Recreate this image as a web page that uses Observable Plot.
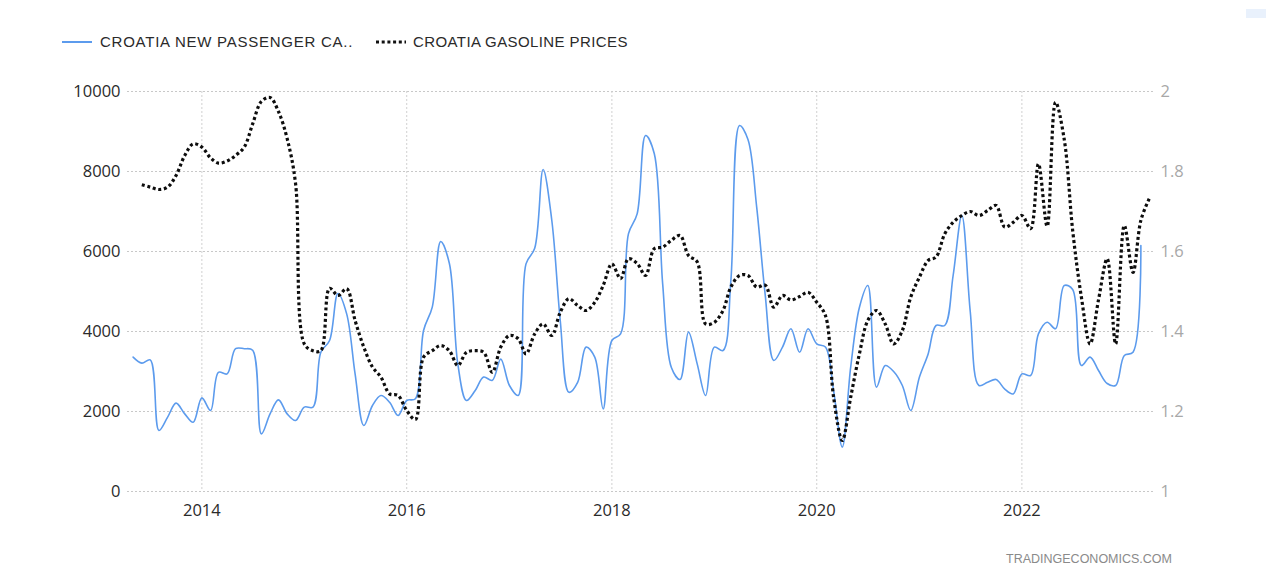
<!DOCTYPE html>
<html><head><meta charset="utf-8">
<script src="https://cdn.jsdelivr.net/npm/d3@7"></script>
<script src="https://cdn.jsdelivr.net/npm/@observablehq/plot@0.6"></script>
<style>
html,body{margin:0;padding:0;background:#fff;}
#wrap{position:relative;width:1267px;height:581px;overflow:hidden;font-family:"Liberation Sans",Arial,sans-serif;}
#chart{position:absolute;left:0;top:0;}
.legtxt{position:absolute;top:34px;font-size:15px;line-height:16px;color:#2a2a2a;white-space:nowrap;}
#wm{position:absolute;right:95px;top:552px;font-size:12.5px;color:#8a8a8a;font-family:"Liberation Sans",Arial,sans-serif;}
#corner{position:absolute;left:1246px;top:9px;width:20px;height:9px;background:#e9f1fc;}
</style></head>
<body>
<div id="wrap">
  <div id="chart"></div>
  <div style="position:absolute;left:62px;top:41px;width:30px;height:2px;background:#5c9bed;"></div>
  <div class="legtxt" id="leg1" style="left:100px;letter-spacing:0.75px;"></div>
  <svg style="position:absolute;left:374px;top:38px;" width="34" height="8"><line x1="2" y1="4" x2="32" y2="4" stroke="#111" stroke-width="3.2" stroke-dasharray="3,2.7"/></svg>
  <div class="legtxt" id="leg2" style="left:413px;letter-spacing:0.4px;"></div>
  <div id="wm"></div>
  <div id="corner"></div>
</div>
<script>
// ---- data ----
const seriesNames = ["CROATIA NEW PASSENGER CA..", "CROATIA GASOLINE PRICES"];
const sourceLabel = "TRADINGECONOMICS.COM";

// Croatia new passenger car registrations, monthly, starting May 2013
const carStart = [2013, 4];
const carSales = [
  3360, 3210, 3290, 1525, 1860, 2210, 1940, 1730,
  2340, 2025, 2980, 2940, 3570, 3570, 3530, 1440, 1940, 2290, 1940, 1775,
  2110, 2110, 3480, 3775, 4950, 4440, 2940, 1650, 2150, 2400, 2230, 1900,
  2275, 2320, 4025, 4610, 6250, 5700, 3190, 2275, 2525, 2860, 2780, 3310,
  2650, 2400, 5690, 6080, 8050, 6775, 4275, 2480, 2730, 3610, 3360, 2065,
  3775, 3940, 6440, 6940, 8900, 8450, 5190, 3100, 2800, 3985, 3190, 2400,
  3610, 3525, 5275, 9150, 8800, 7110, 4940, 3275, 3610, 4070, 3480, 4070,
  3690, 3610, 2525, 1110, 3110, 4600, 5150, 2610, 3150, 3000, 2650, 2025,
  2860, 3440, 4150, 4150, 5400, 6900, 4500, 2650, 2730, 2800, 2560, 2440,
  2940, 2900, 3940, 4230, 4070, 5150, 5050, 3150, 3360, 3025, 2700, 2650,
  3400, 3480, 6150
];

// Croatia gasoline prices (USD/liter), monthly, starting June 2013
const gasStart = [2013, 5];
const gasolinePrices = [
  1.767, 1.761, 1.755, 1.761, 1.79, 1.84, 1.869,
  1.861, 1.834, 1.821, 1.826, 1.84, 1.861, 1.919, 1.975, 1.985, 1.95, 1.882, 1.769,
  1.369, 1.352, 1.352, 1.508, 1.49, 1.507, 1.4275, 1.361, 1.311, 1.286, 1.244, 1.24,
  1.2025, 1.18, 1.336, 1.352, 1.365, 1.352, 1.315, 1.348, 1.352, 1.348, 1.298, 1.361,
  1.39, 1.382, 1.344, 1.394, 1.419, 1.39, 1.448, 1.482, 1.465, 1.4525, 1.473, 1.515,
  1.569, 1.532, 1.582, 1.57, 1.54, 1.607, 1.611, 1.628, 1.64, 1.59, 1.574, 1.419,
  1.423, 1.4525, 1.511, 1.54, 1.54, 1.511, 1.516, 1.461, 1.49, 1.479, 1.4875, 1.498,
  1.473, 1.44, 1.236, 1.1275, 1.236, 1.344, 1.4275, 1.4525, 1.419, 1.369, 1.4025, 1.486,
  1.536, 1.5775, 1.586, 1.644, 1.673, 1.69, 1.70, 1.69, 1.7025, 1.715, 1.661, 1.673,
  1.69, 1.657, 1.819, 1.663, 1.973, 1.88, 1.6525, 1.486, 1.369, 1.479, 1.582, 1.369,
  1.665, 1.548, 1.678, 1.734
];

const leftTicks = [0, 2000, 4000, 6000, 8000, 10000];
const rightTicks = [1, 1.2, 1.4, 1.6, 1.8, 2];
const rightTickLabels = ["1", "1.2", "1.4", "1.6", "1.8", "2"];
const yearTicks = [2014, 2016, 2018, 2020, 2022];

// ---- build ----
const carData = carSales.map((v, i) => ({date: new Date(Date.UTC(carStart[0], carStart[1] + i, 1)), value: v}));
const gasData = gasolinePrices.map((v, i) => ({date: new Date(Date.UTC(gasStart[0], gasStart[1] + i, 1)), value: v}));
const toLeft = d3.scaleLinear().domain([1, 2]).range([0, 10000]);
const yearDates = yearTicks.map(y => new Date(Date.UTC(y, 0, 1)));

document.getElementById("leg1").textContent = seriesNames[0];
document.getElementById("leg2").textContent = seriesNames[1];
document.getElementById("wm").textContent = sourceLabel;

const chart = Plot.plot({
  width: 1267,
  height: 581,
  marginTop: 91,
  marginBottom: 90,
  marginLeft: 127,
  marginRight: 114,
  style: {fontFamily: "'Open Sans', sans-serif", fontSize: "16px", background: "transparent"},
  x: {type: "utc", domain: [new Date(Date.UTC(2013, 3, 11)), new Date(Date.UTC(2023, 3, 15))]},
  y: {domain: [0, 10000]},
  marks: [
    Plot.gridY(leftTicks, {stroke: "#c8c8c8", strokeOpacity: 1, strokeDasharray: "2,2"}),
    Plot.gridX(yearDates, {stroke: "#d0d0d0", strokeOpacity: 1, strokeDasharray: "2,2"}),
    Plot.axisY(leftTicks, {anchor: "left", tickSize: 0, tickPadding: 7, label: null, tickFormat: d => String(d), color: "#2a2a2a", fontSize: 16.5}),
    Plot.axisY(rightTicks.map(t => toLeft(t)), {anchor: "right", tickSize: 0, tickPadding: 7, label: null, tickFormat: (d, i) => rightTickLabels[i], color: "#a8a8a8", fontSize: 16.5}),
    Plot.axisX(yearDates, {tickSize: 0, tickPadding: 13, label: null, tickFormat: d => String(d.getUTCFullYear()), color: "#2a2a2a", fontSize: 16.5}),
    Plot.line(carData, {x: "date", y: "value", stroke: "#5c9bed", strokeWidth: 1.6, curve: "catmull-rom"}),
    Plot.line(gasData, {x: "date", y: d => toLeft(d.value), stroke: "#0d0d0d", strokeWidth: 3.2, strokeDasharray: "3,2.7", strokeLinecap: "butt", curve: "catmull-rom"})
  ]
});
document.getElementById("chart").appendChild(chart);
</script>
</body></html>
